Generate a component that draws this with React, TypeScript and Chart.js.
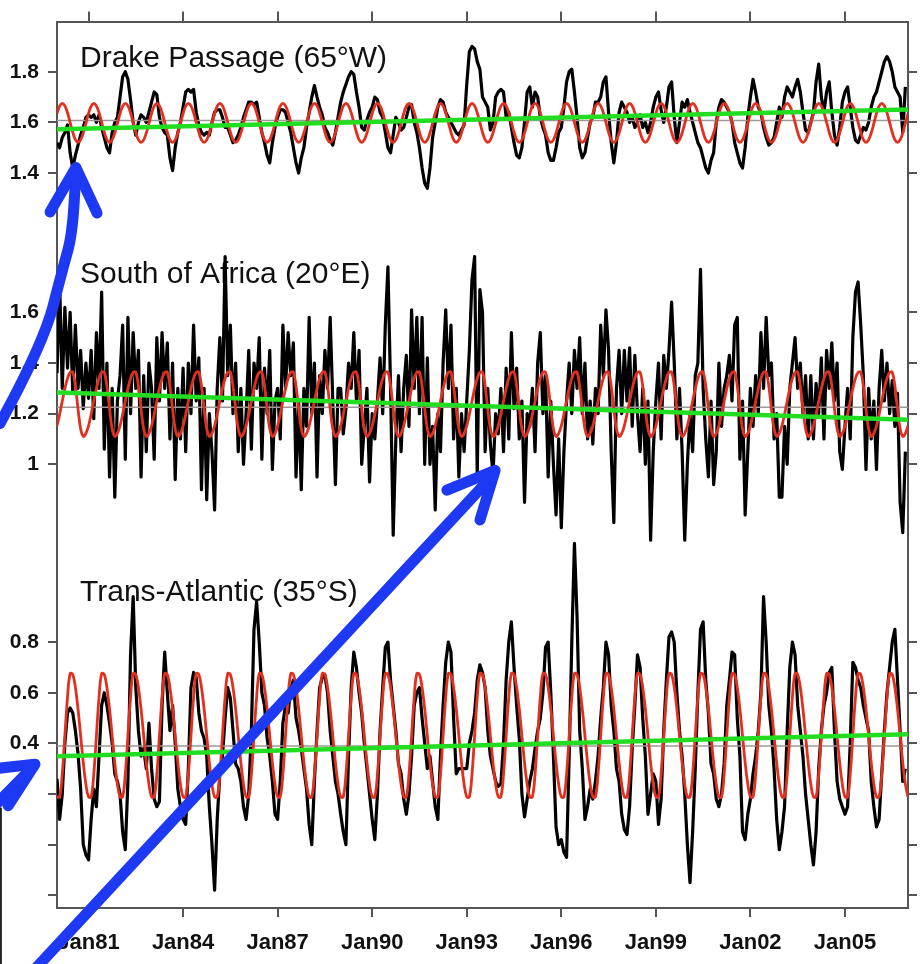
import React, { useEffect, useRef } from 'react';
import { Chart, registerables } from 'chart.js';

Chart.register(...registerables);

// ---------- time axis ----------
const START_YEAR = 1980;
const END_YEAR = 2007;
const X_TICK_YEARS = [1981, 1984, 1987, 1990, 1993, 1996, 1999, 2002, 2005];
const X_TICK_LABELS = ['Jan81', 'Jan84', 'Jan87', 'Jan90', 'Jan93', 'Jan96', 'Jan99', 'Jan02', 'Jan05'];

// ---------- panel titles ----------
const PANEL_TITLES = ['Drake Passage (65°W)', 'South of Africa (20°E)', 'Trans-Atlantic (35°S)'];

// ---------- monthly transport series (1980-01 .. 2006-12) ----------
const DRAKE = [
  1.52, 1.50, 1.54, 1.56, 1.59, 1.48, 1.42, 1.47, 1.51, 1.55, 1.58, 1.62,
  1.63, 1.62, 1.63, 1.60, 1.63, 1.58, 1.54, 1.50, 1.48, 1.56, 1.60, 1.62,
  1.70, 1.78, 1.80, 1.77, 1.69, 1.60, 1.55, 1.60, 1.63, 1.62, 1.60, 1.64,
  1.68, 1.72, 1.71, 1.62, 1.58, 1.56, 1.55, 1.46, 1.41, 1.50, 1.56, 1.60,
  1.66, 1.72, 1.73, 1.72, 1.73, 1.64, 1.59, 1.56, 1.55, 1.56, 1.55, 1.60,
  1.64, 1.65, 1.65, 1.62, 1.58, 1.58, 1.55, 1.52, 1.53, 1.55, 1.58, 1.62,
  1.65, 1.68, 1.68, 1.67, 1.68, 1.62, 1.56, 1.52, 1.47, 1.44, 1.52, 1.58,
  1.62, 1.65, 1.65, 1.64, 1.60, 1.56, 1.50, 1.44, 1.40, 1.46, 1.50, 1.58,
  1.64, 1.70, 1.745, 1.70, 1.66, 1.63, 1.58, 1.56, 1.53, 1.51, 1.56, 1.62,
  1.68, 1.72, 1.75, 1.78, 1.80, 1.79, 1.72, 1.66, 1.58, 1.57, 1.61, 1.64,
  1.66, 1.70, 1.69, 1.64, 1.62, 1.56, 1.50, 1.48, 1.55, 1.62, 1.60, 1.57,
  1.58, 1.62, 1.66, 1.67, 1.60, 1.56, 1.50, 1.42, 1.36, 1.34, 1.42, 1.54,
  1.60, 1.66, 1.69, 1.68, 1.64, 1.62, 1.60, 1.58, 1.56, 1.55, 1.57, 1.59,
  1.75, 1.88, 1.90, 1.89, 1.84, 1.81, 1.70, 1.68, 1.66, 1.57, 1.60, 1.70,
  1.72, 1.73, 1.72, 1.62, 1.64, 1.58, 1.52, 1.47, 1.46, 1.50, 1.60, 1.72,
  1.74, 1.66, 1.72, 1.70, 1.62, 1.58, 1.55, 1.48, 1.45, 1.45, 1.50, 1.56,
  1.58, 1.66, 1.76, 1.80, 1.81, 1.72, 1.62, 1.50, 1.46, 1.48, 1.54, 1.60,
  1.62, 1.68, 1.68, 1.70, 1.76, 1.78, 1.64, 1.52, 1.44, 1.52, 1.64, 1.68,
  1.66, 1.64, 1.60, 1.62, 1.58, 1.60, 1.63, 1.58, 1.60, 1.56, 1.60, 1.66,
  1.70, 1.72, 1.65, 1.60, 1.66, 1.74, 1.76, 1.62, 1.52, 1.60, 1.68, 1.66,
  1.69, 1.64, 1.60, 1.56, 1.52, 1.50, 1.46, 1.42, 1.40, 1.45, 1.48, 1.60,
  1.66, 1.69, 1.68, 1.66, 1.64, 1.60, 1.52, 1.48, 1.44, 1.42, 1.50, 1.62,
  1.70, 1.77, 1.72, 1.66, 1.64, 1.58, 1.54, 1.51, 1.52, 1.54, 1.60, 1.66,
  1.62, 1.70, 1.74, 1.72, 1.70, 1.74, 1.77, 1.72, 1.64, 1.57, 1.56, 1.60,
  1.64, 1.76, 1.83, 1.70, 1.64, 1.72, 1.76, 1.64, 1.55, 1.51, 1.58, 1.68,
  1.72, 1.74, 1.66, 1.58, 1.53, 1.52, 1.55, 1.58, 1.57, 1.60, 1.66, 1.70,
  1.72, 1.76, 1.80, 1.84, 1.86, 1.84, 1.80, 1.74, 1.72, 1.70, 1.56, 1.74,
];

const AFRICA = [
  1.36, 1.72, 1.30, 1.62, 1.38, 1.60, 1.28, 1.55, 1.30, 1.45, 1.22, 1.40,
  1.26, 1.45, 1.18, 1.52, 1.30, 1.68, 1.06, 1.40, 0.95, 1.30, 0.87, 1.25,
  1.35, 1.55, 1.02, 1.58, 1.20, 1.52, 1.30, 1.45, 0.95, 1.35, 1.05, 1.40,
  1.30, 1.02, 1.50, 1.25, 1.52, 1.30, 1.48, 1.10, 1.40, 0.94, 1.30, 1.10,
  1.38, 1.05, 1.40, 1.20, 1.55, 1.25, 1.42, 0.90, 1.30, 0.86, 1.20, 1.05,
  0.82, 1.30, 1.50, 1.25, 1.82, 1.35, 1.55, 1.20, 1.40, 1.05, 1.30, 1.00,
  1.20, 1.45, 1.06, 1.40, 1.30, 1.50, 1.02, 1.38, 1.20, 1.45, 0.98, 1.25,
  1.30, 1.10, 1.55, 1.30, 1.52, 1.35, 1.48, 0.95, 1.25, 0.90, 1.30, 1.15,
  1.58, 1.20, 1.40, 0.95, 1.35, 1.20, 1.45, 1.30, 1.58, 1.25, 0.92, 1.30,
  1.30, 1.12, 1.22, 1.40, 1.30, 1.52, 1.25, 1.45, 1.00, 1.15, 1.30, 0.93,
  1.20, 1.10, 1.25, 1.42, 1.20, 1.55, 1.78, 1.30, 0.72, 1.10, 1.35, 1.05,
  1.30, 1.43, 1.15, 1.61, 1.30, 1.58, 1.20, 1.58, 1.00, 1.42, 1.00, 1.15,
  0.82, 1.20, 1.05, 1.40, 1.61, 1.30, 1.55, 1.10, 1.30, 0.95, 1.20, 1.05,
  1.25, 1.45, 1.73, 1.82, 0.95, 1.69, 1.60, 1.05, 1.30, 1.08, 0.96, 1.20,
  1.12, 1.30, 1.05, 1.38, 1.10, 1.52, 1.22, 1.38, 1.10, 1.25, 0.85, 1.20,
  1.15, 1.30, 1.05, 1.40, 1.52, 1.20, 1.35, 0.95, 1.25, 1.00, 0.80, 1.10,
  0.75, 1.05, 1.25, 1.40, 1.20, 1.45, 1.30, 1.50, 1.20, 1.40, 1.10, 1.25,
  1.08, 1.30, 1.20, 1.55, 1.35, 1.61, 1.45, 1.05, 0.77, 1.30, 1.45, 1.20,
  1.45, 1.25, 1.46, 1.15, 1.43, 1.20, 1.05, 1.30, 1.00, 1.25, 0.70, 1.05,
  1.25, 1.40, 1.10, 1.43, 1.30, 1.45, 1.64, 1.40, 1.10, 1.30, 1.05, 0.70,
  1.00, 1.20, 1.05, 1.35, 1.40, 1.77, 1.30, 1.10, 0.95, 1.25, 0.92, 1.05,
  1.40, 1.15, 1.30, 1.35, 1.43, 1.25, 1.55, 1.58, 1.02, 1.25, 0.80, 1.05,
  1.30, 1.15, 1.35, 1.20, 1.52, 1.30, 1.58, 1.35, 1.40, 1.10, 1.20, 0.87,
  0.87, 1.15, 1.00, 1.30, 1.40, 1.50, 1.30, 1.40, 1.20, 1.35, 1.10, 1.35,
  1.10, 1.32, 1.20, 1.42, 1.10, 1.45, 1.30, 1.48, 1.25, 1.40, 1.05, 0.98,
  1.15, 1.30, 1.10, 1.50, 1.68, 1.72, 1.55, 1.35, 0.98, 1.30, 1.10, 1.25,
  0.98, 1.30, 1.45, 1.25, 1.40, 1.20, 1.33, 1.15, 1.28, 0.85, 0.73, 1.05,
];

const ATLANTIC = [
  0.26, 0.10, 0.20, 0.40, 0.52, 0.54, 0.52, 0.45, 0.36, 0.22, 0.00, -0.04,
  -0.06, 0.10, 0.22, 0.15, 0.35, 0.55, 0.60, 0.55, 0.48, 0.40, 0.28, 0.25,
  0.20, 0.05, -0.02, 0.25, 0.75, 0.98, 0.62, 0.45, 0.35, 0.38, 0.30, 0.48,
  0.30, 0.18, 0.15, 0.17, 0.55, 0.76, 0.60, 0.45, 0.55, 0.40, 0.22, 0.15,
  0.10, 0.08, 0.30, 0.62, 0.68, 0.66, 0.52, 0.45, 0.42, 0.35, 0.15, 0.00,
  -0.18, 0.10, 0.28, 0.35, 0.50, 0.62, 0.58, 0.45, 0.32, 0.30, 0.25, 0.15,
  0.10, 0.20, 0.45, 0.85, 0.96, 0.80, 0.60, 0.55, 0.42, 0.35, 0.25, 0.12,
  0.10, 0.25, 0.48, 0.55, 0.52, 0.62, 0.65, 0.50, 0.45, 0.38, 0.30, 0.22,
  0.08, 0.00, 0.25, 0.45, 0.62, 0.66, 0.67, 0.60, 0.45, 0.35, 0.25, 0.20,
  0.12, 0.05, 0.00, 0.35, 0.62, 0.76, 0.70, 0.60, 0.52, 0.40, 0.30, 0.20,
  0.10, 0.02, 0.20, 0.45, 0.62, 0.78, 0.80, 0.65, 0.55, 0.45, 0.32, 0.28,
  0.18, 0.12, 0.20, 0.35, 0.55, 0.60, 0.62, 0.50, 0.40, 0.30, 0.35, 0.25,
  0.15, 0.10, 0.35, 0.55, 0.72, 0.80, 0.76, 0.50, 0.28, 0.30, 0.30, 0.30,
  0.30, 0.40, 0.45, 0.52, 0.65, 0.71, 0.68, 0.62, 0.45, 0.35, 0.30, 0.25,
  0.23, 0.24, 0.40, 0.65, 0.80, 0.88, 0.70, 0.55, 0.42, 0.20, 0.11, 0.18,
  0.25, 0.30, 0.38, 0.45, 0.50, 0.60, 0.78, 0.80, 0.60, 0.35, 0.07, 0.00,
  0.02, -0.03, -0.05, 0.35, 0.80, 1.19, 0.90, 0.45, 0.30, 0.10, 0.15, 0.22,
  0.18, 0.25, 0.35, 0.50, 0.62, 0.80, 0.75, 0.55, 0.45, 0.30, 0.25, 0.12,
  0.06, 0.04, 0.15, 0.38, 0.55, 0.75, 0.70, 0.50, 0.35, 0.12, 0.20, 0.28,
  0.25, 0.08, 0.18, 0.45, 0.65, 0.82, 0.84, 0.80, 0.60, 0.45, 0.35, 0.20,
  0.00, -0.15, 0.05, 0.30, 0.60, 0.85, 0.88, 0.65, 0.52, 0.32, 0.28, 0.18,
  0.15, 0.20, 0.32, 0.55, 0.65, 0.76, 0.75, 0.50, 0.35, 0.05, 0.02, 0.12,
  0.18, 0.28, 0.35, 0.45, 0.60, 0.98, 0.80, 0.55, 0.45, 0.30, 0.10, -0.02,
  0.05, 0.15, 0.45, 0.70, 0.80, 0.75, 0.55, 0.45, 0.35, 0.20, 0.10, 0.00,
  -0.08, 0.05, 0.30, 0.45, 0.55, 0.60, 0.68, 0.70, 0.45, 0.25, 0.18, 0.15,
  0.12, 0.15, 0.40, 0.72, 0.70, 0.65, 0.62, 0.55, 0.50, 0.45, 0.25, 0.15,
  0.07, 0.10, 0.28, 0.45, 0.60, 0.70, 0.80, 0.85, 0.65, 0.45, 0.25, 0.30,
];

// ---------- fitted mean seasonal cycle (Jan..Dec), red ----------
const DRAKE_SEASONAL = [1.635, 1.664, 1.675, 1.665, 1.638, 1.600, 1.561, 1.532, 1.521, 1.531, 1.558, 1.596];
const AFRICA_SEASONAL = [1.152, 1.197, 1.249, 1.299, 1.339, 1.363, 1.363, 1.309, 1.219, 1.140, 1.110, 1.122];
const ATLANTIC_SEASONAL = [0.189, 0.189, 0.278, 0.430, 0.582, 0.676, 0.672, 0.621, 0.536, 0.430, 0.324, 0.239];

// ---------- linear trends (start, end), green ----------
const DRAKE_TREND = [1.573, 1.651];
const AFRICA_TREND = [1.283, 1.176];
const ATLANTIC_TREND = [0.349, 0.436];

// ---------- long-term means, grey ----------
const DRAKE_MEAN = 1.607;
const AFRICA_MEAN = 1.225;
const ATLANTIC_MEAN = 0.39;

// ---------- per-panel axis ticks ----------
const DRAKE_TICKS = [1.4, 1.6, 1.8];
const DRAKE_TICK_LABELS = ['1.4', '1.6', '1.8'];
const AFRICA_TICKS = [1.0, 1.2, 1.4, 1.6];
const AFRICA_TICK_LABELS = ['1', '1.2', '1.4', '1.6'];
const ATLANTIC_TICKS = [-0.2, 0, 0.2, 0.4, 0.6, 0.8];
const ATLANTIC_TICK_LABELS = ['', '', '', '0.4', '0.6', '0.8'];

// vertical stacking of the three panels on a shared axis
const PANEL_OFFSETS = [1.502, 0.752, 0.25];
const TITLE_LEVELS = [1.852, 1.749, 0.993];
const TITLE_YEAR = 1980.73;
const Y_MIN = 0;
const Y_MAX = 3.5;

// ---------- overlay annotations (blue arrows) in [year, axis value] ----------
const CURVED_ARROW_PATH = [[1978.19, 1.913], [1979.56, 2.226], [1980.19, 2.528], [1980.48, 2.657], [1980.6, 2.9]];
const CURVED_ARROW_HEAD = [[1979.78, 2.748], [1980.6, 2.924], [1981.27, 2.744]];
const STRAIGHT_ARROW_PATH = [[1979.14, -0.263], [1993.84, 1.71]];
const STRAIGHT_ARROW_HEAD = [[1992.37, 1.650], [1993.9, 1.728], [1993.42, 1.532]];
const SMALL_ARROW_PATH = [[1977.87, 0.384], [1979.22, 0.555]];
const SMALL_ARROW_HEAD = [[1977.95, 0.549], [1979.3, 0.568], [1978.45, 0.404]];
const EDGE_LINE = [[1978.22, 0.396], [1978.22, -0.25]];

const FONT_FAMILY = '"Liberation Sans", Arial, Helvetica, sans-serif';

const monthX = (i: number) => START_YEAR + i / 12;

function seriesPoints(values: number[], offset: number) {
  return values.map((v, i) => ({ x: monthX(i), y: v + offset }));
}
function seasonalPoints(clim: number[], offset: number) {
  const n = (END_YEAR - START_YEAR) * 12;
  const pts: { x: number; y: number }[] = [];
  for (let i = 0; i <= n; i++) pts.push({ x: monthX(i), y: clim[i % 12] + offset });
  return pts;
}
function twoPoint(a: number, b: number, offset: number) {
  return [
    { x: START_YEAR, y: a + offset },
    { x: END_YEAR, y: b + offset },
  ];
}

const Y_TICK_VALUES = [
  ...DRAKE_TICKS.map((v) => v + PANEL_OFFSETS[0]),
  ...AFRICA_TICKS.map((v) => v + PANEL_OFFSETS[1]),
  ...ATLANTIC_TICKS.map((v) => v + PANEL_OFFSETS[2]),
];
const Y_TICK_TEXT = [...DRAKE_TICK_LABELS, ...AFRICA_TICK_LABELS, ...ATLANTIC_TICK_LABELS];

const overlayPlugin = {
  id: 'overlay',
  beforeDatasetsDraw(chart: any) {
    const { ctx, scales } = chart;
    const xs = scales.x;
    const ys = scales.y;
    ctx.save();
    ctx.font = `30px ${FONT_FAMILY}`;
    ctx.fillStyle = '#111';
    ctx.textAlign = 'left';
    ctx.textBaseline = 'middle';
    PANEL_TITLES.forEach((t, k) => {
      ctx.fillText(t, xs.getPixelForValue(TITLE_YEAR), ys.getPixelForValue(TITLE_LEVELS[k] + PANEL_OFFSETS[k]));
    });
    ctx.restore();
  },
  afterDraw(chart: any) {
    const { ctx, scales } = chart;
    const xs = scales.x;
    const ys = scales.y;
    const px = (p: number[]) => [xs.getPixelForValue(p[0]), ys.getPixelForValue(p[1])];
    ctx.save();
    ctx.strokeStyle = '#222';
    ctx.lineWidth = 2;
    ctx.beginPath();
    EDGE_LINE.forEach((p, i) => {
      const [x, y] = px(p);
      if (i === 0) ctx.moveTo(x, y);
      else ctx.lineTo(x, y);
    });
    ctx.stroke();

    ctx.strokeStyle = '#1d39f4';
    ctx.lineWidth = 11;
    ctx.lineCap = 'round';
    ctx.lineJoin = 'round';
    const poly = (pts: number[][]) => {
      ctx.beginPath();
      pts.forEach((p, i) => {
        const [x, y] = px(p);
        if (i === 0) ctx.moveTo(x, y);
        else ctx.lineTo(x, y);
      });
      ctx.stroke();
    };
    const smooth = (pts: number[][]) => {
      const P = pts.map(px);
      ctx.beginPath();
      ctx.moveTo(P[0][0], P[0][1]);
      for (let i = 1; i < P.length - 1; i++) {
        const mx = (P[i][0] + P[i + 1][0]) / 2;
        const my = (P[i][1] + P[i + 1][1]) / 2;
        ctx.quadraticCurveTo(P[i][0], P[i][1], mx, my);
      }
      ctx.lineTo(P[P.length - 1][0], P[P.length - 1][1]);
      ctx.stroke();
    };
    smooth(CURVED_ARROW_PATH);
    poly(CURVED_ARROW_HEAD);
    poly(STRAIGHT_ARROW_PATH);
    poly(STRAIGHT_ARROW_HEAD);
    poly(SMALL_ARROW_PATH);
    poly(SMALL_ARROW_HEAD);
    ctx.restore();
  },
};

export default function App() {
  const canvasRef = useRef<HTMLCanvasElement | null>(null);

  useEffect(() => {
    if (!canvasRef.current) return;
    const black = '#000000';
    const red = '#e2301f';
    const green = '#22dd22';
    const grey = '#9a9a9a';
    const panels = [
      { data: DRAKE, seas: DRAKE_SEASONAL, trend: DRAKE_TREND, mean: DRAKE_MEAN },
      { data: AFRICA, seas: AFRICA_SEASONAL, trend: AFRICA_TREND, mean: AFRICA_MEAN },
      { data: ATLANTIC, seas: ATLANTIC_SEASONAL, trend: ATLANTIC_TREND, mean: ATLANTIC_MEAN },
    ];
    const datasets: any[] = [];
    panels.forEach((p, k) => {
      const off = PANEL_OFFSETS[k];
      datasets.push({
        label: PANEL_TITLES[k],
        data: seriesPoints(p.data, off),
        borderColor: black,
        borderWidth: 3.2,
        pointRadius: 0,
        tension: 0,
        borderJoinStyle: 'round',
        order: 4,
      });
      datasets.push({
        label: PANEL_TITLES[k] + ' mean',
        data: twoPoint(p.mean, p.mean, off),
        borderColor: grey,
        borderWidth: 1.5,
        pointRadius: 0,
        order: 3,
      });
      datasets.push({
        label: PANEL_TITLES[k] + ' seasonal',
        data: seasonalPoints(p.seas, off),
        borderColor: red,
        borderWidth: 2.8,
        pointRadius: 0,
        tension: 0.4,
        order: 2,
      });
      datasets.push({
        label: PANEL_TITLES[k] + ' trend',
        data: twoPoint(p.trend[0], p.trend[1], off),
        borderColor: green,
        borderWidth: 4.5,
        pointRadius: 0,
        order: 1,
      });
    });

    const axisColor = '#555555';
    const xTickSetter = (scale: any) => {
      scale.ticks = X_TICK_YEARS.map((v) => ({ value: v }));
    };
    const yTickSetter = (scale: any) => {
      scale.ticks = Y_TICK_VALUES.map((v) => ({ value: v }));
    };

    const chart = new Chart(canvasRef.current, {
      type: 'line',
      data: { datasets },
      plugins: [overlayPlugin],
      options: {
        animation: false,
        responsive: false,
        maintainAspectRatio: false,
        events: [],
        layout: { padding: 0 },
        plugins: {
          legend: { display: false },
          tooltip: { enabled: false },
          title: { display: false },
        },
        scales: {
          x: {
            type: 'linear',
            position: 'bottom',
            min: START_YEAR,
            max: END_YEAR,
            afterBuildTicks: xTickSetter,
            afterFit: (s: any) => {
              s.height = 56;
            },
            ticks: {
              autoSkip: false,
              maxRotation: 0,
              padding: 13,
              color: '#111',
              font: { family: FONT_FAMILY, size: 22, weight: 'bold' },
              callback: (_v: any, i: number) => X_TICK_LABELS[i],
            },
            grid: { drawOnChartArea: false, drawTicks: true, tickLength: 9, color: axisColor, lineWidth: 2 },
            border: { display: true, color: axisColor, width: 2 },
          },
          xTop: {
            type: 'linear',
            position: 'top',
            min: START_YEAR,
            max: END_YEAR,
            afterBuildTicks: xTickSetter,
            afterFit: (s: any) => {
              s.height = 15;
            },
            ticks: { display: false },
            grid: { drawOnChartArea: false, drawTicks: true, tickLength: 10, color: axisColor, lineWidth: 2 },
            border: { display: true, color: axisColor, width: 2 },
          },
          y: {
            type: 'linear',
            position: 'left',
            min: Y_MIN,
            max: Y_MAX,
            afterBuildTicks: yTickSetter,
            afterFit: (s: any) => {
              s.width = 57;
            },
            ticks: {
              autoSkip: false,
              padding: 9,
              color: '#111',
              font: { family: FONT_FAMILY, size: 21, weight: 'bold' },
              callback: (_v: any, i: number) => Y_TICK_TEXT[i],
            },
            grid: { drawOnChartArea: false, drawTicks: true, tickLength: 9, color: axisColor, lineWidth: 2 },
            border: { display: true, color: axisColor, width: 2 },
          },
          yRight: {
            type: 'linear',
            position: 'right',
            min: Y_MIN,
            max: Y_MAX,
            afterBuildTicks: yTickSetter,
            afterFit: (s: any) => {
              s.width = 12;
            },
            ticks: { display: false },
            grid: { drawOnChartArea: false, drawTicks: true, tickLength: 9, color: axisColor, lineWidth: 2 },
            border: { display: true, color: axisColor, width: 2 },
          },
        },
      } as any,
    });
    return () => chart.destroy();
  }, []);

  return (
    <div style={{ position: 'absolute', left: 0, top: 0, width: 920, height: 964, background: '#fff' }}>
      <canvas ref={canvasRef} width={920} height={964} style={{ width: 920, height: 964, display: 'block' }} />
    </div>
  );
}
